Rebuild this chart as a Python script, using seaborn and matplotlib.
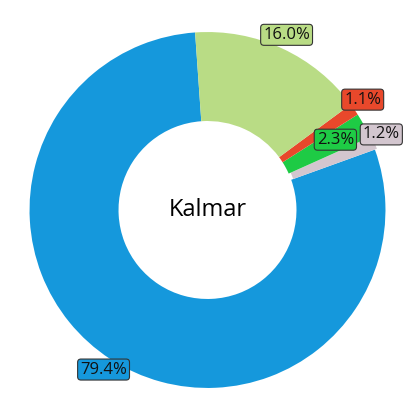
import matplotlib
matplotlib.use("Agg")
import matplotlib.pyplot as plt
import seaborn as sns
import numpy as np

sns.set_style("white")
plt.rcParams['font.family'] = ['Open Sans', 'DejaVu Sans']

# slice data (counter-clockwise from the top)
labels = ['79.4%', '1.2%', '2.3%', '1.1%', '16.0%']
shares = [79.4, 1.2, 2.3, 1.1, 16.0]
colors = ['#1598dc', '#d3c6cf', '#1ecb45', '#e8482b', '#b9dc85']
explode = [0, 0.012, 0, 0, 0]
# where each label sits: radius and small angle nudge (degrees) from the slice middle
label_r = [1.07, 1.065, 0.82, 1.07, 1.08]
label_shift = [0, 1.5, 0.5, 1, 0.5]

fig = plt.figure(figsize=(4.15, 4.15), dpi=100)
ax = fig.add_axes([0, 0, 1, 1])

wedges, _ = ax.pie(shares, colors=colors, explode=explode, startangle=94,
                   counterclock=True, radius=1.0,
                   wedgeprops=dict(width=0.5, linewidth=0))

for w, lab, col, r, sh in zip(wedges, labels, colors, label_r, label_shift):
    mid = np.deg2rad((w.theta1 + w.theta2) / 2 + sh)
    ax.text(r * np.cos(mid), r * np.sin(mid), lab, ha='center', va='center',
            fontsize=12, color='#111111',
            bbox=dict(boxstyle='round,pad=0.15,rounding_size=0.2', fc=col, ec='#333333', lw=0.8))

ax.text(0, 0, 'Kalmar', ha='center', va='center', fontsize=17, color='black')

ax.set_aspect('equal')
ax.set_xlim(-1.166, 1.166)
ax.set_ylim(-1.152, 1.18)
ax.axis('off')

fig.savefig('out.png', dpi=100)
